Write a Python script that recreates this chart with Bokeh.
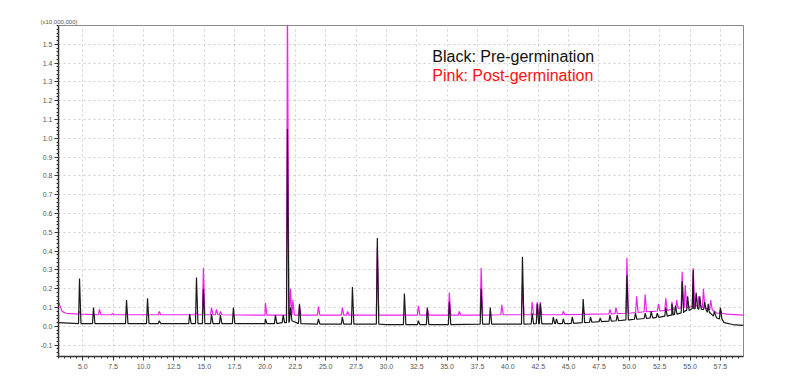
from bokeh.plotting import figure
from bokeh.models import FixedTicker, Label, Range1d, Title
from bokeh.embed import file_html
from bokeh.resources import INLINE

# ---- data (retention time in min, intensity in x10,000,000) ----
# baseline anchor points
BLACK_BASE_T = [3.0, 6.0, 10.0, 20.0, 30.0, 40.0, 45.0, 47.5, 50.0, 52.0, 53.5, 54.5, 55.3, 56.0, 56.6, 57.2, 57.8, 58.5, 59.4]
BLACK_BASE_Y = [0.02, 0.015, 0.015, 0.012, 0.01, 0.012, 0.015, 0.025, 0.035, 0.045, 0.06, 0.08, 0.095, 0.09, 0.07, 0.045, 0.02, 0.01, 0.005]

PINK_BASE_T = [3.0, 3.3, 3.6, 10.0, 20.0, 30.0, 40.0, 47.0, 50.0, 52.0, 53.5, 54.5, 55.5, 56.5, 57.2, 58.0, 59.4]
PINK_BASE_Y = [0.13, 0.08, 0.07, 0.062, 0.06, 0.06, 0.062, 0.065, 0.07, 0.08, 0.09, 0.10, 0.11, 0.09, 0.07, 0.065, 0.06]

# peaks: retention time, local baseline, apex
BLACK_PEAK_T = [4.73, 5.88, 8.6, 10.33, 11.3, 13.8, 14.36, 14.93, 15.6, 16.33, 17.4, 20.04, 20.86, 21.5,
                21.85, 22.1, 22.84, 24.4, 26.37, 27.2, 29.25, 31.48, 32.63, 33.37, 35.18, 37.8, 38.55,
                41.2, 42.0, 42.42, 42.67, 43.74, 44.0, 44.56, 45.3, 46.2, 46.8, 47.6, 48.4, 49.0, 49.8,
                50.5, 51.3, 51.8, 52.3, 53.0, 53.5, 53.8, 54.35, 54.8, 55.26, 55.5, 55.8, 56.2, 56.5,
                57.0, 57.5]
BLACK_PEAK_BASE = [0.015, 0.015, 0.015, 0.015, 0.015, 0.015, 0.015, 0.015, 0.015, 0.015, 0.015, 0.015, 0.015, 0.02,
                   0.02, 0.03, 0.015, 0.012, 0.012, 0.012, 0.012, 0.01, 0.01, 0.01, 0.01, 0.012, 0.012,
                   0.012, 0.013, 0.014, 0.014, 0.014, 0.015, 0.015, 0.016, 0.02, 0.022, 0.025, 0.028, 0.03, 0.035,
                   0.038, 0.042, 0.045, 0.048, 0.055, 0.06, 0.065, 0.072, 0.085, 0.095, 0.095, 0.092, 0.09, 0.075,
                   0.055, 0.04]
BLACK_PEAK_TOP = [0.255, 0.10, 0.14, 0.15, 0.03, 0.065, 0.26, 0.20, 0.065, 0.06, 0.10, 0.04, 0.06, 0.06,
                  1.05, 0.10, 0.12, 0.04, 0.05, 0.21, 0.47, 0.175, 0.03, 0.10, 0.13, 0.20, 0.10,
                  0.37, 0.07, 0.12, 0.12, 0.05, 0.04, 0.04, 0.05, 0.145, 0.05, 0.045, 0.06, 0.06, 0.27,
                  0.07, 0.07, 0.08, 0.07, 0.10, 0.12, 0.11, 0.24, 0.16, 0.30, 0.18, 0.16, 0.13, 0.12,
                  0.08, 0.10]

PINK_PEAK_T = [4.73, 6.37, 7.44, 8.6, 11.3, 14.36, 14.93, 15.6, 16.0, 16.33, 20.04, 21.85, 22.1, 22.3,
               22.84, 24.4, 26.37, 26.8, 29.25, 32.63, 33.37, 35.18, 36.0, 37.8, 39.5, 41.2, 42.0, 42.42,
               42.67, 44.56, 46.2, 48.4, 48.9, 49.8, 50.6, 51.3, 52.4, 53.0, 53.5, 53.9, 54.35, 54.6,
               55.26, 55.7, 56.1, 56.7, 57.5]
PINK_PEAK_BASE = [0.065, 0.062, 0.062, 0.062, 0.062, 0.062, 0.062, 0.062, 0.062, 0.062, 0.06, 0.06, 0.06, 0.06,
                  0.06, 0.06, 0.06, 0.06, 0.06, 0.06, 0.06, 0.06, 0.06, 0.06, 0.062, 0.062, 0.062, 0.062,
                  0.062, 0.063, 0.064, 0.066, 0.068, 0.07, 0.074, 0.078, 0.082, 0.085, 0.09, 0.095, 0.10, 0.10,
                  0.105, 0.11, 0.10, 0.09, 0.07]
PINK_PEAK_TOP = [0.08, 0.09, 0.07, 0.07, 0.08, 0.07, 0.31, 0.10, 0.09, 0.08, 0.125, 1.75, 0.20, 0.14,
                 0.11, 0.105, 0.10, 0.08, 0.42, 0.11, 0.09, 0.18, 0.08, 0.31, 0.115, 0.22, 0.13, 0.13,
                 0.13, 0.08, 0.09, 0.09, 0.10, 0.365, 0.16, 0.17, 0.12, 0.15, 0.13, 0.14, 0.29, 0.22,
                 0.31, 0.16, 0.20, 0.14, 0.09]

X_TICKS = [5.0, 7.5, 10.0, 12.5, 15.0, 17.5, 20.0, 22.5, 25.0, 27.5, 30.0, 32.5, 35.0, 37.5, 40.0,
           42.5, 45.0, 47.5, 50.0, 52.5, 55.0, 57.5]
X_TICK_LABELS = ["5.0", "7.5", "10.0", "12.5", "15.0", "17.5", "20.0", "22.5", "25.0", "27.5", "30.0",
                 "32.5", "35.0", "37.5", "40.0", "42.5", "45.0", "47.5", "50.0", "52.5", "55.0", "57.5"]
Y_TICKS = [-0.1, 0.0, 0.1, 0.2, 0.3, 0.4, 0.5, 0.6, 0.7, 0.8, 0.9, 1.0, 1.1, 1.2, 1.3, 1.4, 1.5]
Y_TICK_LABELS = ["-0.1", "0.0", "0.1", "0.2", "0.3", "0.4", "0.5", "0.6", "0.7", "0.8", "0.9",
                 "1.0", "1.1", "1.2", "1.3", "1.4", "1.5"]
X_MINOR = [3.0 + 0.5 * i for i in range(0, 114)]
Y_MINOR = [round(-0.16 + 0.02 * i, 2) for i in range(0, 89)]

LEGEND_TEXTS = ["Black: Pre-germination", "Pink: Post-germination"]
UNIT_TEXT = "(x10,000,000)"


def trace(base_t, base_y, peak_t, peak_base, peak_top, lead=0.08, tail=0.12):
    pts = list(zip(base_t, base_y))
    for t, b, h in zip(peak_t, peak_base, peak_top):
        pts.append((t - lead, b))
        pts.append((t, h))
        pts.append((t + tail, b))
    pts.sort(key=lambda q: q[0])
    return [q[0] for q in pts], [q[1] for q in pts]


bx, by = trace(BLACK_BASE_T, BLACK_BASE_Y, BLACK_PEAK_T, BLACK_PEAK_BASE, BLACK_PEAK_TOP)
px, py = trace(PINK_BASE_T, PINK_BASE_Y, PINK_PEAK_T, PINK_PEAK_BASE, PINK_PEAK_TOP)

p = figure(width=760, height=378, output_backend="svg", toolbar_location=None,
           x_range=Range1d(3.0, 59.4), y_range=Range1d(-0.16, 1.6),
           min_border_left=58, min_border_right=17, min_border_top=25, min_border_bottom=22)
p.background_fill_color = "white"
p.border_fill_color = "white"
p.outline_line_color = "#8a8a8a"
p.outline_line_width = 1

p.line(px, py, line_color="#ee22ee", line_width=1.2)
p.line(bx, by, line_color="#1a1a1a", line_width=1.2)

p.xaxis.ticker = FixedTicker(ticks=X_TICKS, minor_ticks=X_MINOR)
p.yaxis.ticker = FixedTicker(ticks=Y_TICKS, minor_ticks=Y_MINOR)
p.xaxis.major_label_overrides = dict(zip(X_TICKS, X_TICK_LABELS))
p.yaxis.major_label_overrides = dict(zip(Y_TICKS, Y_TICK_LABELS))
for ax in (p.xaxis, p.yaxis):
    ax.axis_line_color = "#333333"
    ax.axis_line_width = 1.5
    ax.major_tick_line_color = "#333333"
    ax.minor_tick_line_color = "#333333"
    ax.major_tick_out = 4
    ax.major_tick_in = 0
    ax.minor_tick_out = 2
    ax.minor_tick_in = 0
    ax.major_label_text_font = "Liberation Sans"
    ax.major_label_text_font_size = "7px"
    ax.major_label_text_color = "#555555"
p.xaxis.major_label_standoff = 3
p.yaxis.major_label_standoff = 2

p.grid.grid_line_color = "#cfcfcf"
p.grid.grid_line_dash = "2 3"
p.grid.grid_line_width = 1
p.xgrid.ticker = FixedTicker(ticks=X_TICKS)
p.ygrid.ticker = FixedTicker(ticks=Y_TICKS)

p.add_layout(Title(text=UNIT_TEXT, align="left", offset=-18, text_font="Liberation Sans",
                   text_font_size="6px", text_color="#555555", text_font_style="normal",
                   standoff=2), "above")
p.add_layout(Label(x=33.78, y=1.436, text=LEGEND_TEXTS[0], text_font="Liberation Sans",
                   text_font_size="16px", text_color="#111111", text_baseline="middle"))
p.add_layout(Label(x=33.78, y=1.336, text=LEGEND_TEXTS[1], text_font="Liberation Sans",
                   text_font_size="16px", text_color="#ff1010", text_baseline="middle"))

open("out.html", "w").write(file_html(p, INLINE))
